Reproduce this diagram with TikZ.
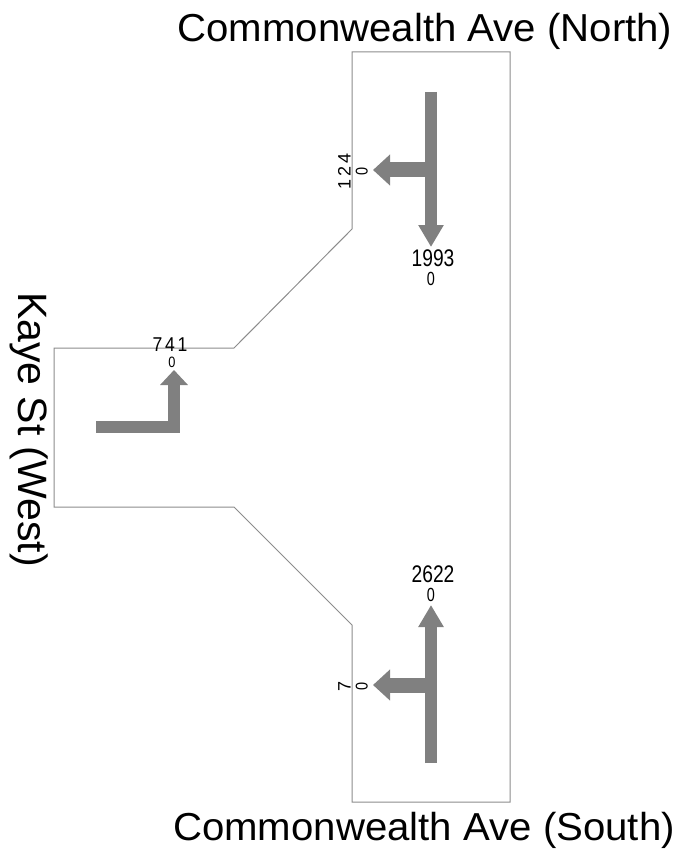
\documentclass[tikz,border=0pt]{standalone}
\usepackage{fontspec}
\setmainfont{Liberation Sans}
\usetikzlibrary{arrows.meta}
\definecolor{arrgray}{RGB}{128,128,128}
\definecolor{linegray}{RGB}{140,140,140}
\tikzset{
  outline/.style={draw=linegray, line width=1pt},
  vflow/.style={draw=arrgray, line width=12pt, line cap=butt, line join=miter,
    -{Triangle[length=22pt,width=24pt]}},
  hflow/.style={draw=arrgray, line width=15pt, line cap=butt, line join=miter,
    -{Triangle[length=17pt,width=30pt]}},
  wflow/.style={draw=arrgray, line width=12pt, line cap=butt, line join=miter,
    -{Triangle[length=15pt,width=27pt]}},
  title/.style={font=\fontsize{39}{40}\selectfont, inner sep=0pt, anchor=base, xscale=1.03},
  sidetitle/.style={font=\fontsize{41}{42}\selectfont, inner sep=0pt, anchor=base},
  tight/.style={inner sep=0pt, text depth=0pt, text height=#1},
  num/.style={font=\fontsize{24}{24}\selectfont, tight=17.3pt, xscale=0.8},
  zero/.style={font=\fontsize{19}{19}\selectfont, tight=13.7pt, xscale=0.76},
  wnum/.style={font=\fontsize{20}{20}\selectfont, tight=14.4pt, xscale=0.88},
  wzero/.style={font=\fontsize{15}{15}\selectfont, tight=10.8pt, xscale=0.85},
  rnum/.style={font=\fontsize{18}{18}\selectfont, tight=13pt},
  rzero/.style={font=\fontsize{17}{17}\selectfont, tight=12.2pt, yscale=0.85},
}
\begin{document}
\begin{tikzpicture}[x=1pt,y=-1pt]
\useasboundingbox (0,0) rectangle (682,850);
% outline
\draw[outline] (352,52) -- (510,52) -- (510,802) -- (352,802) -- (352,625)
  -- (234,507) -- (54,507) -- (54,348) -- (234,348) -- (352,229) -- cycle;
% titles
\node[title] (tn) at (425,42) {Commonwealth Ave (North)};
\node[title] (ts) at (424,840) {Commonwealth Ave (South)};
\node[sidetitle, rotate=-90] (tw) at (18,429.5) {Kaye St (West)};
% coordinates
\coordinate (nTop) at (431,92);
\coordinate (nTip) at (431,247);
\coordinate (nMid) at (431,170);
\coordinate (nLeft) at (373,170);
\coordinate (wStart) at (96,427);
\coordinate (wCorner) at (174,427);
\coordinate (wTip) at (174,370);
\coordinate (sBot) at (431,763);
\coordinate (sTip) at (431,605);
\coordinate (sMid) at (431,685);
\coordinate (sLeft) at (373,685);
% arrows
\draw[vflow] (nTop) -- (nTip);
\draw[hflow] (nMid) -- (nLeft);
\draw[wflow] (wStart) -- (wCorner) -- (wTip);
\draw[vflow] (sBot) -- (sTip);
\draw[hflow] (sMid) -- (sLeft);
% labels
\node[rnum, rotate=90] (l124) at (344,171) {1\kern3pt2\kern3pt4};
\node[rzero, rotate=90] (l124z) at (361.5,171) {0};
\node[num] (l1993) at (433,257.5) {1993};
\node[zero] (l1993z) at (431,278.5) {0};
\node[wnum] (l741) at (170,344) {7\kern3pt4\kern3pt1};
\node[wzero] (l741z) at (172,362) {0};
\node[num] (l2622) at (433,574) {2622};
\node[zero] (l2622z) at (431,594.5) {0};
\node[rnum, rotate=90] (l7) at (344,686) {7};
\node[rzero, rotate=90] (l7z) at (361.5,686) {0};
\end{tikzpicture}
\end{document}
